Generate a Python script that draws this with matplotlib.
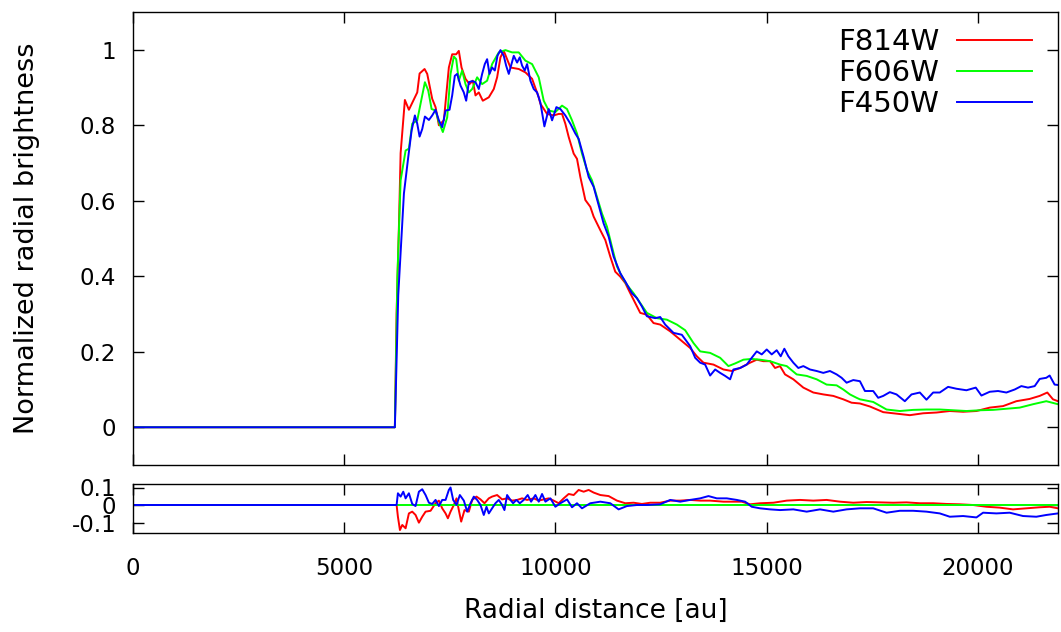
import matplotlib

matplotlib.use("Agg")
import matplotlib.pyplot as plt
from matplotlib.ticker import FixedLocator, FuncFormatter

red_x = [0, 6200, 6240, 6300, 6336, 6437, 6532, 6730, 6785, 6903, 6966, 7084, 7163, 7242,
         7360, 7478, 7557, 7652, 7714, 7778, 7872, 7967, 8045, 8109, 8187, 8282, 8424, 8542,
         8621, 8700, 8778, 8936, 9133, 9291, 9449, 9606, 9645, 9803, 9960, 10079, 10158,
         10236, 10315, 10433, 10512, 10591, 10709, 10827, 10906, 11064, 11182, 11300, 11418,
         11537, 11655, 11773, 11891, 12009, 12167, 12324, 12482, 12719, 12955, 13191, 13349,
         13506, 13743, 13979, 14176, 14374, 14610, 14768, 14925, 15083, 15201, 15319, 15437,
         15634, 15871, 16107, 16343, 16580, 16816, 17013, 17210, 17447, 17762, 18077, 18392,
         18707, 19023, 19338, 19653, 19969, 20284, 20599, 20914, 21229, 21466, 21647, 21781,
         21900]
red_y = [0, 0, 0.30, 0.55, 0.726, 0.867, 0.841, 0.887, 0.937, 0.949, 0.936, 0.870, 0.848,
         0.80, 0.813, 0.953, 0.988, 0.988, 0.997, 0.953, 0.923, 0.909, 0.918, 0.879, 0.887,
         0.865, 0.874, 0.896, 0.927, 0.98, 0.997, 0.953, 0.949, 0.94, 0.923, 0.874, 0.857,
         0.83, 0.826, 0.83, 0.83, 0.804, 0.769, 0.725, 0.711, 0.663, 0.602, 0.584, 0.558,
         0.522, 0.496, 0.452, 0.412, 0.399, 0.382, 0.355, 0.329, 0.303, 0.298, 0.276, 0.272,
         0.254, 0.232, 0.21, 0.188, 0.171, 0.166, 0.153, 0.149, 0.157, 0.171, 0.179, 0.175,
         0.175, 0.157, 0.162, 0.14, 0.127, 0.105, 0.092, 0.087, 0.083, 0.074, 0.065, 0.063,
         0.055, 0.04, 0.036, 0.032, 0.037, 0.039, 0.043, 0.041, 0.043, 0.052, 0.056, 0.069,
         0.075, 0.083, 0.092, 0.074, 0.069]

green_x = [0, 6200, 6260, 6336, 6454, 6532, 6611, 6730, 6808, 6911, 6990, 7069, 7163, 7242,
           7336, 7439, 7518, 7596, 7652, 7714, 7793, 7872, 7951, 8030, 8148, 8266, 8384,
           8502, 8660, 8818, 8976, 9133, 9291, 9449, 9606, 9724, 9842, 10000, 10158, 10275,
           10394, 10512, 10630, 10749, 10867, 10985, 11104, 11222, 11340, 11458, 11577,
           11695, 11852, 12009, 12167, 12403, 12640, 12876, 13073, 13270, 13428, 13664,
           13901, 14097, 14255, 14452, 14649, 14846, 15083, 15319, 15477, 15713, 15950,
           16186, 16422, 16659, 16816, 16974, 17132, 17210, 17525, 17841, 18156, 18471,
           18786, 19101, 19417, 19732, 20047, 20362, 20678, 20993, 21308, 21623, 21900]
green_y = [0, 0, 0.40, 0.654, 0.733, 0.738, 0.804, 0.813, 0.857, 0.914, 0.892, 0.843, 0.839,
           0.808, 0.782, 0.821, 0.936, 0.982, 0.975, 0.918, 0.945, 0.909, 0.887, 0.896,
           0.927, 0.909, 0.918, 0.962, 0.993, 0.999, 0.993, 0.993, 0.971, 0.962, 0.927,
           0.865, 0.839, 0.835, 0.852, 0.843, 0.813, 0.778, 0.725, 0.681, 0.654, 0.61,
           0.566, 0.531, 0.478, 0.426, 0.399, 0.377, 0.355, 0.329, 0.303, 0.289, 0.285,
           0.272, 0.257, 0.223, 0.201, 0.197, 0.184, 0.162, 0.169, 0.179, 0.181, 0.179,
           0.175, 0.166, 0.162, 0.14, 0.136, 0.127, 0.113, 0.111, 0.1, 0.087, 0.078, 0.074,
           0.067, 0.047, 0.043, 0.046, 0.047, 0.047, 0.045, 0.043, 0.045, 0.046, 0.049,
           0.052, 0.061, 0.069, 0.061]

blue_x = [0, 6200, 6280, 6414, 6517, 6596, 6674, 6730, 6785, 6848, 6911, 7006, 7084, 7163,
          7242, 7321, 7400, 7494, 7557, 7619, 7675, 7754, 7832, 7888, 7951, 8030, 8109,
          8187, 8266, 8329, 8384, 8440, 8502, 8566, 8629, 8700, 8778, 8834, 8897, 8960,
          9015, 9094, 9157, 9212, 9275, 9330, 9409, 9487, 9567, 9645, 9740, 9842, 9922,
          10024, 10118, 10236, 10355, 10473, 10551, 10670, 10788, 10906, 11024, 11142,
          11261, 11379, 11537, 11655, 11813, 11931, 12049, 12167, 12364, 12482, 12600,
          12797, 12994, 13191, 13310, 13428, 13546, 13664, 13783, 13901, 14019, 14137,
          14216, 14374, 14531, 14649, 14768, 14886, 15004, 15122, 15240, 15335, 15421,
          15516, 15634, 15752, 15871, 16028, 16186, 16343, 16501, 16659, 16777, 16895,
          17053, 17210, 17329, 17525, 17643, 17762, 17919, 18077, 18274, 18432, 18629,
          18786, 18944, 19101, 19298, 19496, 19732, 19953, 20087, 20284, 20481, 20678,
          20875, 21032, 21190, 21348, 21466, 21623, 21702, 21820, 21900]
blue_y = [0, 0, 0.35, 0.619, 0.716, 0.786, 0.826, 0.804, 0.77, 0.79, 0.823, 0.814, 0.826,
          0.841, 0.813, 0.795, 0.839, 0.841, 0.879, 0.931, 0.936, 0.905, 0.887, 0.865,
          0.914, 0.917, 0.914, 0.896, 0.936, 0.962, 0.975, 0.936, 0.953, 0.945, 0.984,
          0.999, 0.984, 0.958, 0.936, 0.962, 0.984, 0.966, 0.98, 0.958, 0.945, 0.962,
          0.918, 0.896, 0.887, 0.86, 0.797, 0.843, 0.813, 0.848, 0.843, 0.826, 0.804,
          0.778, 0.764, 0.716, 0.663, 0.637, 0.588, 0.54, 0.505, 0.452, 0.408, 0.386,
          0.355, 0.342, 0.32, 0.294, 0.289, 0.292, 0.272, 0.25, 0.245, 0.215, 0.184,
          0.171, 0.166, 0.137, 0.153, 0.144, 0.136, 0.127, 0.153, 0.157, 0.166, 0.184,
          0.201, 0.193, 0.206, 0.193, 0.204, 0.188, 0.208, 0.188, 0.171, 0.157, 0.162,
          0.153, 0.149, 0.144, 0.149, 0.14, 0.131, 0.118, 0.125, 0.122, 0.096, 0.096,
          0.078, 0.083, 0.093, 0.087, 0.069, 0.087, 0.092, 0.073, 0.092, 0.092, 0.107,
          0.102, 0.098, 0.105, 0.084, 0.094, 0.096, 0.092, 0.1, 0.109, 0.105, 0.109,
          0.128, 0.131, 0.137, 0.113, 0.112]

# residuals relative to F606W
res_red_x = [0, 6241, 6272, 6320, 6375, 6454, 6532, 6611, 6690, 6769, 6848, 6927, 7045,
             7163, 7242, 7321, 7400, 7455, 7518, 7596, 7660, 7714, 7770, 7849, 7951, 8030,
             8132, 8227, 8322, 8424, 8502, 8621, 8739, 8857, 8976, 9094, 9212, 9330, 9487,
             9606, 9724, 9842, 9960, 10079, 10197, 10315, 10433, 10551, 10670, 10788,
             10906, 11064, 11261, 11458, 11655, 11852, 12049, 12246, 12482, 12719, 12955,
             13191, 13428, 13664, 13979, 14216, 14413, 14610, 14846, 15161, 15477, 15792,
             16107, 16422, 16738, 17053, 17368, 17683, 17998, 18314, 18629, 18944, 19259,
             19574, 19890, 20205, 20520, 20835, 21151, 21466, 21702, 21900]
res_red_y = [0, 0, -0.067, -0.143, -0.114, -0.133, -0.048, -0.038, -0.057, -0.101, -0.067,
             -0.038, -0.033, 0.01, 0.025, -0.019, -0.048, -0.076, -0.038, 0, 0.038, -0.029,
             -0.095, -0.029, -0.038, 0.029, 0.048, 0.032, 0.01, 0.038, 0.048, 0.057, 0.032,
             0.038, 0.025, 0.029, 0.038, 0.029, 0.038, 0.025, 0.032, 0.038, 0.025, 0.01,
             0.038, 0.063, 0.057, 0.086, 0.076, 0.086, 0.071, 0.057, 0.051, 0.025, 0.01,
             0.013, 0.006, 0.013, 0.013, 0.025, 0.025, 0.029, 0.025, 0.025, 0.019, 0.019,
             0.019, 0.004, 0.01, 0.013, 0.025, 0.029, 0.025, 0.029, 0.019, 0.013, 0.017,
             0.015, 0.013, 0.015, 0.01, 0.01, 0.006, 0.004, 0, -0.01, -0.015, -0.025,
             -0.019, -0.013, -0.01, -0.019]

res_green_x = [0, 21900]
res_green_y = [0, 0]

res_blue_x = [0, 6241, 6272, 6336, 6399, 6454, 6532, 6611, 6690, 6769, 6848, 6927, 7006,
              7084, 7163, 7242, 7321, 7400, 7478, 7518, 7580, 7660, 7738, 7833, 7912, 7991,
              8069, 8148, 8227, 8305, 8369, 8424, 8502, 8581, 8660, 8739, 8794, 8857, 8936,
              8999, 9078, 9157, 9251, 9345, 9425, 9527, 9606, 9685, 9764, 9882, 10000,
              10118, 10276, 10394, 10512, 10630, 10827, 11064, 11300, 11497, 11694, 11931,
              12167, 12482, 12719, 12955, 13191, 13428, 13625, 13822, 14058, 14295, 14492,
              14649, 14846, 15083, 15319, 15634, 15950, 16265, 16580, 16895, 17210, 17525,
              17841, 18156, 18471, 18786, 19101, 19338, 19653, 19969, 20126, 20441, 20756,
              21072, 21387, 21623, 21900]
res_blue_y = [0, 0, 0.067, 0.048, 0.076, 0.038, 0.067, 0.006, -0.006, 0.076, 0.09, 0.057,
              0.013, 0.006, 0.029, -0.006, 0.029, 0.029, 0.086, 0.1, 0.029, 0, 0.057, 0.025,
              -0.038, 0.01, 0.048, 0.029, 0, -0.057, -0.01, -0.048, -0.019, 0.01, 0.029, 0,
              -0.029, 0.057, 0.029, 0.01, 0.029, 0.01, 0.029, 0.057, 0.019, 0.057, 0.019,
              0.063, 0.019, 0.038, -0.01, 0.01, 0.032, -0.013, 0.01, -0.019, 0.01, 0.019,
              0.01, -0.025, -0.006, 0, 0, 0.004, 0.029, 0.019, 0.029, 0.038, 0.051, 0.038,
              0.038, 0.029, 0.019, -0.01, -0.019, -0.025, -0.029, -0.025, -0.038, -0.025,
              -0.038, -0.025, -0.019, -0.019, -0.044, -0.033, -0.033, -0.038, -0.048,
              -0.067, -0.063, -0.071, -0.044, -0.048, -0.044, -0.063, -0.067, -0.057,
              -0.048]

xticks = [0, 5000, 10000, 15000, 20000]
yticks_main = [0, 0.2, 0.4, 0.6, 0.8, 1.0]
yticks_res = [-0.1, 0, 0.1]

RED, GREEN, BLUE = "#ff0000", "#00ff00", "#0000ff"
LW = 1.4

plt.rcParams.update({
    "font.family": "DejaVu Sans",
    "axes.unicode_minus": False,
    "axes.linewidth": 1.0,
    "xtick.direction": "in",
    "ytick.direction": "in",
})


def fmt(v, _pos):
    if abs(v) < 1e-9:
        return "0"
    return f"{v:g}"


def style_axis(ax, fs=16.5):
    ax.tick_params(which="major", length=8, width=1.0, top=True, right=True,
                   labelsize=fs, pad=12)
    ax.yaxis.set_major_formatter(FuncFormatter(fmt))


fig = plt.figure(figsize=(10.61, 6.32), dpi=100)
ax = fig.add_axes([133 / 1061, 1 - 465 / 632, 925 / 1061, 453 / 632])
axr = fig.add_axes([133 / 1061, 1 - 533 / 632, 925 / 1061, 49 / 632])

ax.plot(red_x, red_y, color=RED, lw=LW, label="F814W")
ax.plot(green_x, green_y, color=GREEN, lw=LW, label="F606W")
ax.plot(blue_x, blue_y, color=BLUE, lw=LW, label="F450W")
ax.set_xlim(0, 21900)
ax.set_ylim(-0.1, 1.1)
ax.xaxis.set_major_locator(FixedLocator(xticks))
ax.yaxis.set_major_locator(FixedLocator(yticks_main))
style_axis(ax)
ax.tick_params(labelbottom=False)
ax.set_ylabel("Normalized radial brightness", fontsize=19.5)
ax.yaxis.set_label_coords(-0.1, 0.5)
ax.legend(loc="upper right", frameon=False, markerfirst=False, fontsize=21,
          handlelength=2.6, labelspacing=0.1, handletextpad=0.6,
          borderaxespad=0.0, bbox_to_anchor=(0.985, 0.99))

axr.plot(res_red_x, res_red_y, color=RED, lw=LW)
axr.plot(res_green_x, res_green_y, color=GREEN, lw=LW)
axr.plot(res_blue_x, res_blue_y, color=BLUE, lw=LW)
axr.set_xlim(0, 21900)
axr.set_ylim(-0.16, 0.12)
axr.xaxis.set_major_locator(FixedLocator(xticks))
axr.yaxis.set_major_locator(FixedLocator(yticks_res))
style_axis(axr)
axr.tick_params(axis="x", pad=17)
axr.set_xlabel("Radial distance [au]", fontsize=19, labelpad=13)

fig.savefig("out.png", dpi=100)
